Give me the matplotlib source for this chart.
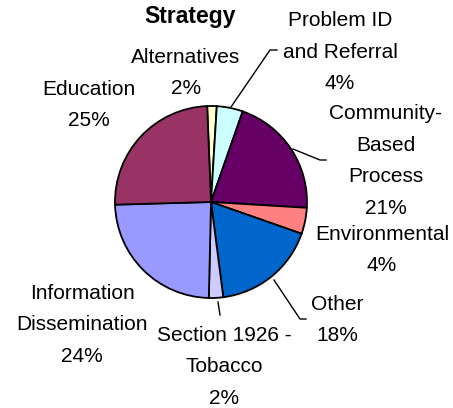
import matplotlib
matplotlib.use("Agg")
from matplotlib import pyplot as plt

# datos del grafico (sentido horario desde arriba)
estrategias = ["Alternatives", "Problem ID\nand Referral", "Community-\nBased\nProcess",
               "Environmental", "Other", "Section 1926 -\nTobacco",
               "Information\nDissemination", "Education"]
porcentajes = [1.6, 4.4, 20.6, 4.4, 17.6, 2.4, 24.2, 24.8]
colores = ["#FFFFCC", "#CCFFFF", "#660066", "#FF8080", "#0066CC", "#CCCCFF",
           "#9999FF", "#993366"]

# posiciones de las etiquetas en pixeles de la imagen (centro del bloque)
pos_etiquetas = [(186, 73), (340, 52), (386, 161), (382, 250), (337, 320),
                 (224, 367), (82, 325), (89, 105)]

# lineas guia (pixeles)
guias = [
    [(231, 107), (270, 50), (277, 50)],
    [(293, 149), (320, 160), (326, 160)],
    [(274, 280), (300, 319), (306, 319)],
    [(218, 302), (220, 315)],
]

W, H = 453, 408
CX, CY, R = 211, 202, 96

plt.rcParams['font.family'] = ['Liberation Sans', 'DejaVu Sans']

fig = plt.figure(figsize=(W / 100, H / 100), dpi=100)
ax = fig.add_axes([(CX - R) / W, (H - CY - R) / H, 2 * R / W, 2 * R / H])
ax.pie(porcentajes, colors=colores, startangle=92.3, counterclock=False,
       radius=1, wedgeprops=dict(edgecolor="black", linewidth=1.3))
ax.set_xlim(-1, 1)
ax.set_ylim(-1, 1)
ax.set_aspect("equal")
ax.axis("off")


def px(x, y):
    return (x - CX) / R, (CY - y) / R


for nombre, valor, (x, y) in zip(estrategias, porcentajes, pos_etiquetas):
    tx, ty = px(x, y)
    ax.text(tx, ty, nombre + "\n" + f"{valor:.0f}%", ha="center", va="center",
            multialignment="center", fontsize=15, linespacing=1.85, clip_on=False)

for guia in guias:
    xs = [px(x, y)[0] for x, y in guia]
    ys = [px(x, y)[1] for x, y in guia]
    ax.plot(xs, ys, color="black", linewidth=1.0, clip_on=False)

tx, ty = px(190, 17)
ax.text(tx, ty, "Strategy", ha="center", va="center", fontsize=16.5,
        fontweight="bold", clip_on=False)

fig.savefig("out.png", dpi=100)
